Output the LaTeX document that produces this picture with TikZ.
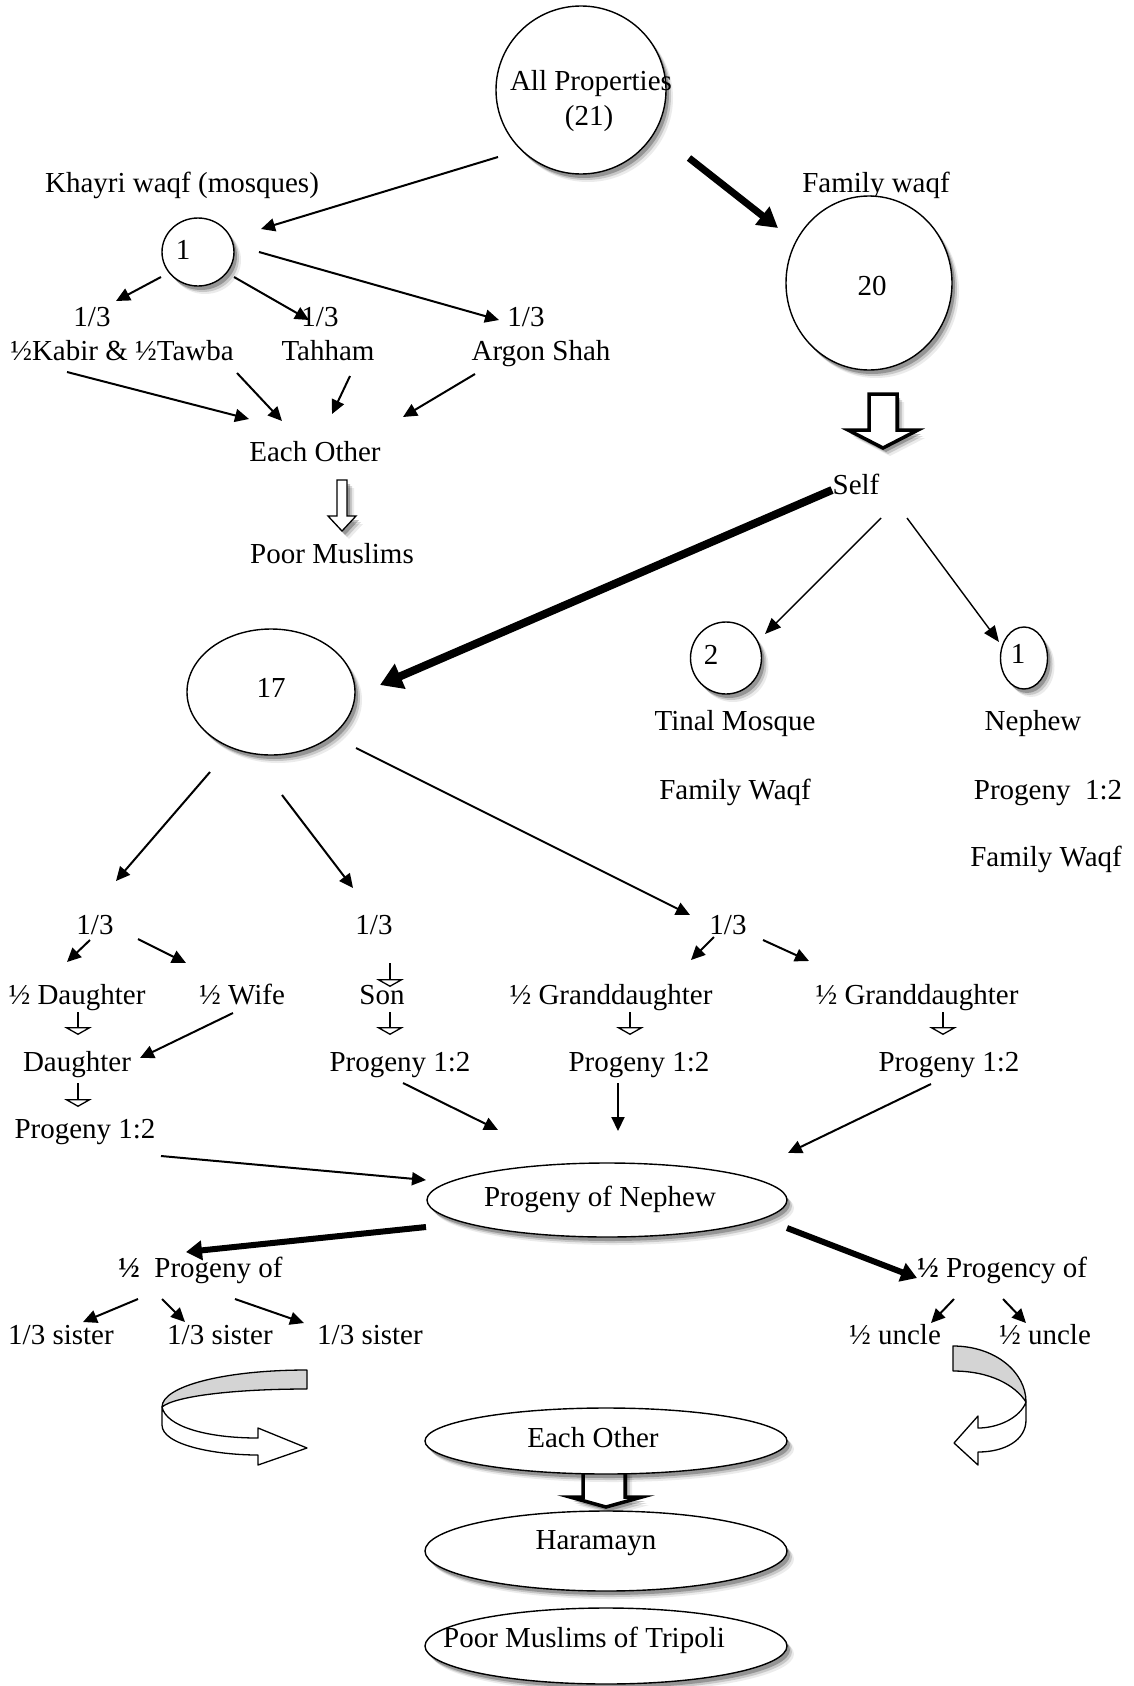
\documentclass[tikz,border=0pt]{standalone}
\usepackage{fontspec}
\setmainfont{Liberation Serif}
\usetikzlibrary{arrows.meta,shapes.geometric,shadows}
\begin{document}
\begin{tikzpicture}[x=1pt,y=-1pt,
  every node/.style={font=\fontsize{29}{35}\selectfont, inner sep=0pt},
  txt/.style={text height=20pt, text depth=6pt},
  softshadow/.style={
    general shadow={fill=black, opacity=0.08, shadow xshift=7pt, shadow yshift=-8pt},
    general shadow={fill=black, opacity=0.15, shadow xshift=5pt, shadow yshift=-6pt},
    general shadow={fill=black, opacity=0.25, shadow xshift=3pt, shadow yshift=-4pt}},
  blob/.style={ellipse, draw, line width=1.4pt, fill=white, softshadow},
  arr/.style={line width=2pt, -{Triangle[length=14pt,width=13pt]}},
  thinarr/.style={line width=1.4pt, -{Triangle[length=16pt,width=13pt]}},
  thickarr/.style={line width=6pt, -{Triangle[length=16pt,width=19pt]}},
  hollowtip/.style={line width=1.3pt, -{Triangle[open, length=8pt, width=28pt, line width=1.3pt]}},
  bigholl/.style={line width=3.5pt, fill=white, line join=miter, softshadow},
  ribbon/.style={line width=1.3pt, line join=round},
]
\fill[white] (0,0) rectangle (1133,1686);
\useasboundingbox (0,0) rectangle (1133,1686);

% ---------- top ----------
\node[blob, minimum width=170pt, minimum height=168pt] (all) at (581,90) {};
\node[txt] (allt1) at (591,83) {All Properties};
\node[txt] (allt2) at (589,118) {(21)};

\node[txt] (khayri) at (182,185) {Khayri waqf (mosques)};
\node[txt] (famw) at (876,185) {Family waqf};

\node[blob, minimum width=72pt, minimum height=68pt] (c1) at (198,252) {};
\node[txt] (c1t) at (183,252) {1};
\node[blob, minimum width=166pt, minimum height=174pt] (c20) at (869,283) {};
\node[txt] (c20t) at (872,288) {20};

\coordinate (a1s) at (498,157); \coordinate (a1e) at (261,229);
\coordinate (a2s) at (689,158); \coordinate (a2e) at (778,228);
\draw[arr] (a1s) -- (a1e);
\draw[line width=7pt, -{Triangle[length=20pt,width=22pt]}] (a2s) -- (a2e);

% left: three thirds
\node[txt] (th1) at (92,319) {1/3};
\node[txt] (th2) at (320,319) {1/3};
\node[txt] (th3) at (526,319) {1/3};
\node[txt] (kab) at (122,353) {½Kabir \& ½Tawba};
\node[txt] (tah) at (328,353) {Tahham};
\node[txt] (arg) at (541,353) {Argon Shah};
\coordinate (b1s) at (161,277); \coordinate (b1e) at (116,301);
\coordinate (b2s) at (234,277); \coordinate (b2e) at (309,320);
\coordinate (b3s) at (259,252); \coordinate (b3e) at (499,320);
\draw[arr] (b1s) -- (b1e);
\draw[arr] (b2s) -- (b2e);
\draw[arr] (b3s) -- (b3e);

\node[txt] (eo1) at (315,454) {Each Other};
\coordinate (e1s) at (67,372);  \coordinate (e1e) at (249,419);
\coordinate (e2s) at (237,373); \coordinate (e2e) at (282,421);
\coordinate (e3s) at (350,376); \coordinate (e3e) at (332,414);
\coordinate (e4s) at (475,374); \coordinate (e4e) at (403,417);
\draw[arr] (e1s) -- (e1e);
\draw[arr] (e2s) -- (e2e);
\draw[arr] (e3s) -- (e3e);
\draw[arr] (e4s) -- (e4e);

\draw[line width=1.3pt, fill=white, softshadow] (337,480) -- (347,480) -- (347,516) -- (356,516) -- (342,531) -- (328,516) -- (337,516) -- cycle;
\node[txt] (poor1) at (332,556) {Poor Muslims};

% ---------- right: family waqf ----------
\draw[bigholl] (869,394) -- (897,394) -- (897,430) -- (918,430) -- (883,448) -- (848,430) -- (869,430) -- cycle;
\node[txt] (self) at (856,487) {Self};

\node[blob, minimum width=168pt, minimum height=126pt] (c17) at (271,692) {};
\node[txt] (c17t) at (271,690) {17};
\node[blob, minimum width=71pt, minimum height=72pt] (c2) at (726,658) {};
\node[txt] (c2t) at (711,657) {2};
\node[blob, minimum width=47pt, minimum height=62pt] (cn) at (1024,658) {};
\node[txt] (cnt) at (1018,656) {1};

\coordinate (s1s) at (832,490); \coordinate (s1e) at (380,685);
\coordinate (s2s) at (881,518); \coordinate (s2e) at (765,634);
\coordinate (s3s) at (907,518); \coordinate (s3e) at (999,642);
\draw[line width=8pt, -{Triangle[length=22pt,width=26pt]}] (s1s) -- (s1e);
\draw[thinarr] (s2s) -- (s2e);
\draw[thinarr] (s3s) -- (s3e);

\node[txt] (tinal) at (735,723) {Tinal Mosque};
\node[txt] (neph) at (1033,723) {Nephew};
\node[txt] (fw1) at (735,792) {Family Waqf};
\node[txt] (pn) at (1048,792) {Progeny~ 1:2};
\node[txt] (fw2) at (1046,859) {Family Waqf};

% ---------- 17 branches ----------
\coordinate (f1s) at (210,772); \coordinate (f1e) at (116,881);
\coordinate (f2s) at (282,795); \coordinate (f2e) at (353,888);
\coordinate (f3s) at (356,748); \coordinate (f3e) at (690,915);
\draw[arr] (f1s) -- (f1e);
\draw[arr] (f2s) -- (f2e);
\draw[arr] (f3s) -- (f3e);

\node[txt] (q1) at (95,927) {1/3};
\node[txt] (q2) at (374,927) {1/3};
\node[txt] (q3) at (728,927) {1/3};

\coordinate (g1s) at (90,940);  \coordinate (g1e) at (67,962);
\coordinate (g2s) at (138,939); \coordinate (g2e) at (186,963);
\coordinate (g3s) at (714,937); \coordinate (g3e) at (691,960);
\coordinate (g4s) at (763,940); \coordinate (g4e) at (809,961);
\draw[arr] (g1s) -- (g1e);
\draw[arr] (g2s) -- (g2e);
\draw[arr] (g3s) -- (g3e);
\draw[arr] (g4s) -- (g4e);

\node[txt] (hd) at (77,997) {½ Daughter};
\node[txt] (hw) at (242,997) {½ Wife};
\node[txt] (son) at (382,997) {Son};
\node[txt] (gd1) at (611,997) {½ Granddaughter};
\node[txt] (gd2) at (917,997) {½ Granddaughter};

\coordinate (h0s) at (390,963);  \coordinate (h0e) at (390,987);
\coordinate (h1s) at (78,1012);  \coordinate (h1e) at (78,1035);
\coordinate (h2s) at (390,1012); \coordinate (h2e) at (390,1035);
\coordinate (h3s) at (630,1012); \coordinate (h3e) at (630,1035);
\coordinate (h4s) at (943,1012); \coordinate (h4e) at (943,1035);
\coordinate (h5s) at (78,1083);  \coordinate (h5e) at (78,1107);
\draw[hollowtip] (h0s) -- (h0e);
\draw[hollowtip] (h1s) -- (h1e);
\draw[hollowtip] (h2s) -- (h2e);
\draw[hollowtip] (h3s) -- (h3e);
\draw[hollowtip] (h4s) -- (h4e);
\draw[hollowtip] (h5s) -- (h5e);

\coordinate (ws) at (233,1013); \coordinate (we) at (140,1058);
\draw[arr] (ws) -- (we);

\node[txt] (dau) at (77,1064) {Daughter};
\node[txt] (p2) at (400,1064) {Progeny 1:2};
\node[txt] (p3) at (639,1064) {Progeny 1:2};
\node[txt] (p4) at (949,1064) {Progeny 1:2};
\node[txt] (p1) at (85,1131) {Progeny 1:2};

% ---------- Progeny of Nephew ----------
\node[blob, minimum width=360pt, minimum height=74pt] (pon) at (607,1200) {};
\node[txt] (pont) at (600,1199) {Progeny of Nephew};

\coordinate (k1s) at (161,1156); \coordinate (k1e) at (426,1180);
\coordinate (k2s) at (403,1083); \coordinate (k2e) at (498,1130);
\coordinate (k3s) at (618,1083); \coordinate (k3e) at (618,1131);
\coordinate (k4s) at (931,1084); \coordinate (k4e) at (788,1153);
\draw[arr] (k1s) -- (k1e);
\draw[arr] (k2s) -- (k2e);
\draw[arr] (k3s) -- (k3e);
\draw[arr] (k4s) -- (k4e);

\coordinate (m1s) at (426,1227); \coordinate (m1e) at (186,1252);
\coordinate (m2s) at (787,1228); \coordinate (m2e) at (917,1278);
\draw[thickarr] (m1s) -- (m1e);
\draw[thickarr] (m2s) -- (m2e);

\node[txt, anchor=west] (hp1) at (118,1270) {{\bfseries ½}~ Progeny of};
\node[txt, anchor=west] (hp2) at (917,1270) {{\bfseries ½} Progency of};

\coordinate (n1s) at (138,1299); \coordinate (n1e) at (83,1322);
\coordinate (n2s) at (162,1299); \coordinate (n2e) at (185,1322);
\coordinate (n3s) at (235,1299); \coordinate (n3e) at (304,1323);
\coordinate (n4s) at (954,1299); \coordinate (n4e) at (931,1323);
\coordinate (n5s) at (1003,1299); \coordinate (n5e) at (1026,1323);
\draw[arr] (n1s) -- (n1e);
\draw[arr] (n2s) -- (n2e);
\draw[arr] (n3s) -- (n3e);
\draw[arr] (n4s) -- (n4e);
\draw[arr] (n5s) -- (n5e);

\node[txt] (sis1) at (61,1337) {1/3 sister};
\node[txt] (sis2) at (220,1337) {1/3 sister};
\node[txt] (sis3) at (370,1337) {1/3 sister};
\node[txt] (unc1) at (895,1337) {½ uncle};
\node[txt] (unc2) at (1045,1337) {½ uncle};

% ---------- curved ribbon arrows ----------
\draw[ribbon, fill=black!17] (307,1370) .. controls (225,1370) and (162,1386) .. (162,1407)
  .. controls (175,1396) and (235,1389) .. (307,1389) -- cycle;
\draw[ribbon, fill=white] (162,1407) -- (162,1425) .. controls (162,1445) and (215,1455) .. (258,1455)
  -- (258,1465) -- (307,1448) -- (258,1428) -- (258,1438)
  .. controls (205,1438) and (166,1426) .. (162,1407) -- cycle;

\draw[ribbon, fill=black!17] (953,1346) .. controls (995,1346) and (1026,1372) .. (1026,1402)
  .. controls (1015,1385) and (990,1371) .. (953,1371) -- cycle;
\draw[ribbon, fill=white] (1026,1402) -- (1026,1420) .. controls (1026,1440) and (1005,1452) .. (978,1452)
  -- (978,1465) -- (954,1443) -- (978,1416) -- (978,1428)
  .. controls (998,1428) and (1020,1418) .. (1026,1402) -- cycle;

% ---------- bottom chain ----------
\draw[bigholl] (583,1465) -- (625,1465) -- (625,1497) -- (642,1497) -- (606,1507) -- (570,1497) -- (583,1497) -- cycle;
\node[blob, minimum width=362pt, minimum height=66pt] (eo2) at (606,1441) {};
\node[txt] (eo2t) at (593,1440) {Each Other};
\node[blob, minimum width=362pt, minimum height=80pt] (har) at (606,1551) {};
\node[txt] (hart) at (596,1542) {Haramayn};
\node[blob, minimum width=362pt, minimum height=76pt] (trip) at (606,1646) {};
\node[txt] (tript) at (584,1640) {Poor Muslims of Tripoli};
\end{tikzpicture}
\end{document}
